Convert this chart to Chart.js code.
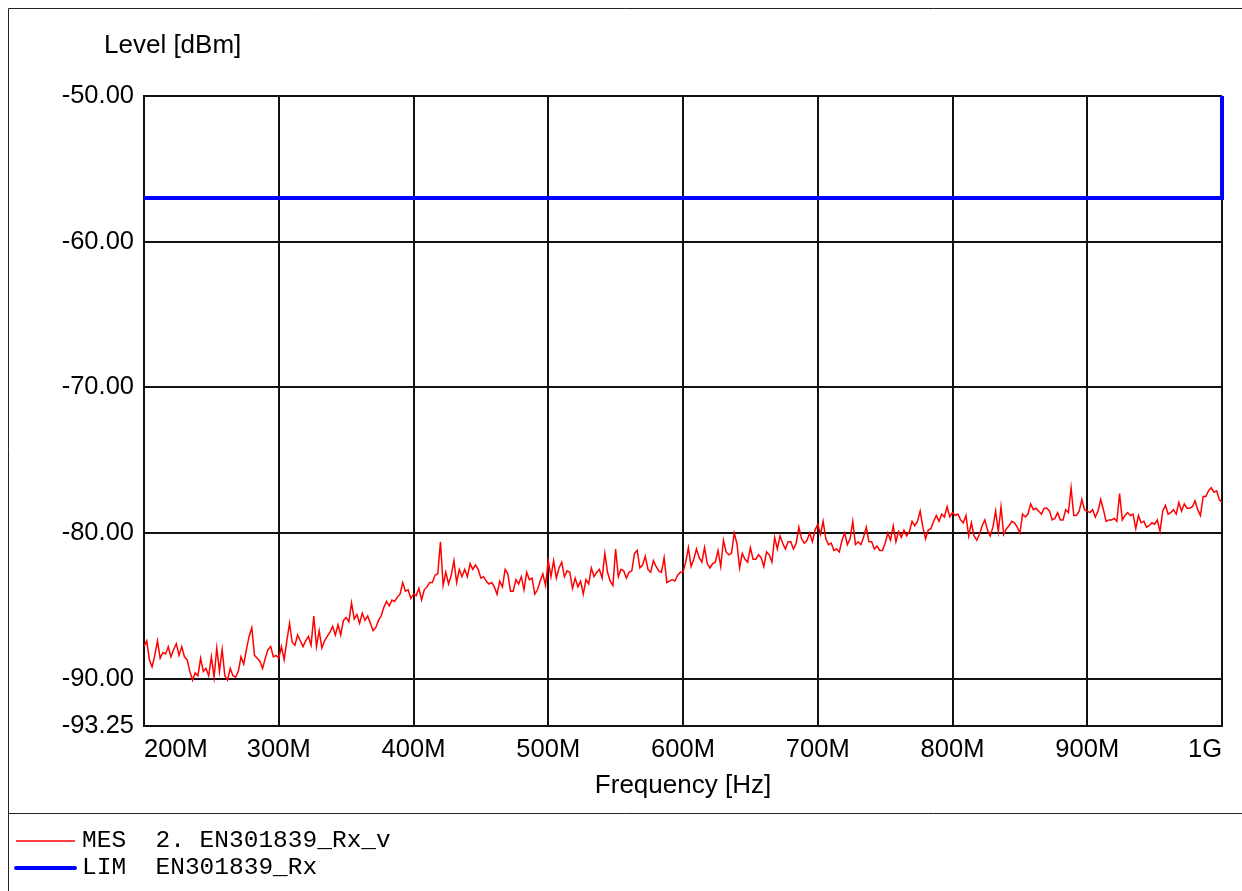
<!DOCTYPE html>
<html>
<head>
<meta charset="utf-8">
<script src="https://cdn.jsdelivr.net/npm/chart.js@4.4.0/dist/chart.umd.min.js"></script>
<style>
  html, body { margin: 0; padding: 0; background: #fff; }
  canvas { display: block; }
</style>
</head>
<body>
<canvas id="emiChart" width="1242" height="891"></canvas>
<script>
// sweep: 200 MHz .. 1 GHz, 2 MHz steps
const freqStartMHz = 200;
const freqStepMHz = 2;

// MES trace, level in dBm
const mesLevel = [
  // 200 - 298 MHz
  -87.8,-87.4,-88.7,-89.2,-88.4,-87.4,-88.6,-88.2,-88.3,-87.8,
  -88.5,-88.0,-87.6,-88.4,-87.8,-88.5,-88.7,-89.5,-90.1,-89.6,
  -89.8,-88.6,-89.5,-89.3,-89.8,-88.5,-89.9,-87.9,-89.5,-88.0,
  -89.8,-90.1,-89.3,-89.8,-89.9,-89.5,-88.5,-89.0,-88.0,-87.1,
  -86.5,-88.4,-88.6,-88.8,-89.3,-88.6,-88.0,-87.8,-88.5,-88.4,
  // 300 - 398 MHz
  -88.6,-87.8,-88.7,-87.4,-86.2,-87.5,-87.7,-87.0,-87.4,-87.8,
  -87.4,-87.1,-87.7,-85.7,-87.8,-86.7,-87.9,-87.4,-87.1,-86.8,
  -86.4,-87.0,-86.3,-87.0,-86.0,-85.8,-86.1,-84.8,-85.9,-85.6,
  -86.2,-85.5,-86.0,-85.7,-86.2,-86.7,-86.5,-86.0,-85.7,-85.1,
  -84.7,-85.0,-84.6,-84.7,-84.4,-84.2,-83.4,-84.0,-83.9,-84.5,
  // 400 - 498 MHz
  -84.2,-84.3,-83.8,-84.6,-83.9,-83.7,-83.4,-83.4,-82.9,-82.8,
  -80.6,-83.6,-82.7,-83.5,-82.9,-81.9,-83.4,-82.5,-83.0,-82.5,
  -83.0,-82.1,-82.5,-82.2,-82.5,-83.1,-83.0,-83.3,-83.5,-83.4,
  -83.7,-84.2,-83.3,-83.7,-82.5,-82.8,-84.0,-84.0,-83.2,-83.5,
  -83.0,-83.9,-82.7,-83.2,-83.1,-84.2,-83.9,-83.3,-82.8,-83.6,
  // 500 - 598 MHz
  -81.9,-83.0,-81.9,-83.1,-82.4,-82.0,-83.0,-82.6,-82.7,-83.8,
  -83.1,-83.7,-83.3,-84.2,-83.2,-83.5,-82.4,-83.0,-82.7,-82.5,
  -83.1,-81.4,-82.7,-83.3,-83.6,-81.1,-83.0,-82.5,-82.6,-83.1,
  -82.7,-82.6,-81.4,-81.2,-82.4,-82.2,-81.6,-82.5,-82.7,-81.9,
  -82.3,-82.6,-82.7,-81.7,-83.4,-83.3,-83.2,-83.3,-82.9,-82.7,
  // 600 - 698 MHz
  -82.7,-82.0,-81.0,-82.3,-81.8,-81.1,-81.7,-82.0,-81.0,-82.1,
  -82.4,-82.1,-82.0,-81.2,-82.3,-80.5,-81.3,-81.5,-81.4,-80.0,
  -80.7,-82.4,-81.4,-81.8,-82.0,-81.0,-81.8,-81.8,-81.5,-81.7,
  -82.3,-81.3,-81.5,-82.0,-80.3,-81.1,-80.2,-80.7,-81.1,-80.6,
  -80.6,-81.1,-80.7,-79.6,-80.4,-80.7,-80.5,-80.0,-80.6,-79.8,
  // 700 - 798 MHz
  -79.4,-80.1,-79.2,-80.4,-80.8,-80.7,-81.2,-81.1,-81.3,-80.5,
  -80.0,-80.8,-80.4,-79.2,-80.8,-80.6,-80.8,-80.3,-79.6,-80.6,
  -80.6,-81.1,-80.9,-81.2,-81.2,-80.7,-80.0,-80.5,-79.5,-80.6,
  -79.9,-80.3,-79.8,-80.2,-79.9,-79.2,-79.5,-79.2,-78.5,-79.6,
  -80.4,-79.8,-79.7,-79.2,-78.8,-79.2,-78.7,-78.9,-78.2,-78.9,
  // 800 - 898 MHz
  -78.6,-78.8,-78.7,-79.1,-79.3,-78.8,-80.2,-79.3,-80.2,-80.5,
  -80.1,-79.5,-79.1,-79.8,-80.2,-79.6,-78.5,-79.9,-78.2,-80.1,
  -79.7,-79.5,-79.2,-79.3,-79.6,-80.0,-78.7,-78.9,-78.7,-78.0,
  -78.4,-78.3,-78.5,-78.7,-78.3,-78.3,-78.5,-79.1,-79.0,-78.6,
  -79.1,-79.1,-78.4,-78.6,-76.9,-78.8,-78.8,-78.5,-77.7,-78.4,
  // 900 - 1000 MHz
  -78.5,-78.6,-78.4,-78.9,-78.5,-77.7,-78.4,-79.2,-79.1,-79.1,
  -79.0,-79.2,-77.3,-79.1,-78.8,-78.6,-78.8,-78.7,-79.7,-78.8,
  -79.3,-79.2,-79.6,-79.5,-79.3,-79.4,-79.1,-79.9,-78.5,-78.1,
  -78.7,-78.6,-78.4,-78.7,-77.9,-78.5,-78.0,-78.3,-78.3,-78.2,
  -77.8,-78.4,-78.8,-77.5,-77.5,-77.1,-76.9,-77.2,-77.1,-77.7,
  -77.9
];

// LIM line
const limFreqMHz = [200, 1000, 1000];
const limLevel = [-57, -57, -50];

// axes
const xTickMHz = [200, 300, 400, 500, 600, 700, 800, 900, 1000];
const xTickLabels = ['200M', '300M', '400M', '500M', '600M', '700M', '800M', '900M', '1G'];
const yTicks = [-93.25, -90, -80, -70, -60, -50];

const legendRows = [
  { name: 'MES', text: '2. EN301839_Rx_v', color: '#ff0000', width: 1.5 },
  { name: 'LIM', text: 'EN301839_Rx', color: '#0000ff', width: 4 }
];

const sansFont = '"Liberation Sans", Arial, sans-serif';
const monoFont = '"Liberation Mono", "Courier New", monospace';
const gridColor = '#111';

const mesPoints = mesLevel.map((v, i) => ({ x: freqStartMHz + i * freqStepMHz, y: v }));
const limPoints = limFreqMHz.map((f, i) => ({ x: f, y: limLevel[i] }));

const decorPlugin = {
  id: 'decor',
  beforeDraw(chart) {
    const ctx = chart.ctx;
    ctx.save();
    ctx.fillStyle = '#fff';
    ctx.fillRect(0, 0, chart.width, chart.height);
    ctx.restore();
  },
  afterDraw(chart) {
    const ctx = chart.ctx;
    const xs = chart.scales.x;
    const area = chart.chartArea;
    ctx.save();

    // outer frame + legend separator
    ctx.strokeStyle = '#222';
    ctx.lineWidth = 1;
    ctx.beginPath();
    ctx.moveTo(8.5, chart.height);
    ctx.lineTo(8.5, 8.5);
    ctx.lineTo(chart.width, 8.5);
    ctx.moveTo(8.5, 813.5);
    ctx.lineTo(chart.width, 813.5);
    ctx.stroke();

    // x tick labels, edge ones pulled inside
    ctx.fillStyle = '#000';
    ctx.font = '25.5px ' + sansFont;
    ctx.textBaseline = 'middle';
    xTickMHz.forEach((f, i) => {
      const px = xs.getPixelForValue(f);
      if (i === 0) ctx.textAlign = 'left';
      else if (i === xTickMHz.length - 1) ctx.textAlign = 'right';
      else ctx.textAlign = 'center';
      ctx.fillText(xTickLabels[i], px, 750);
    });

    // axis titles
    ctx.font = '26px ' + sansFont;
    ctx.textAlign = 'center';
    ctx.fillText('Frequency [Hz]', (area.left + area.right) / 2, 786);
    ctx.textAlign = 'left';
    ctx.fillText('Level [dBm]', 104, 46);

    // legend
    ctx.font = '24.5px ' + monoFont;
    legendRows.forEach((row, i) => {
      const y = 841 + i * 27;
      ctx.strokeStyle = row.color;
      ctx.lineWidth = row.width;
      ctx.lineCap = i === 1 ? 'round' : 'butt';
      ctx.beginPath();
      ctx.moveTo(16, y);
      ctx.lineTo(75, y);
      ctx.stroke();
      ctx.fillStyle = '#000';
      ctx.textAlign = 'left';
      ctx.fillText(row.name, 82, y);
      ctx.fillText(row.text, 82 + 14.7 * 5, y);
    });
    ctx.restore();
  }
};

const chart = new Chart(document.getElementById('emiChart'), {
  type: 'line',
  data: {
    datasets: [
      {
        label: 'MES',
        data: mesPoints,
        borderColor: '#ff0000',
        borderWidth: 1.5,
        pointRadius: 0,
        tension: 0
      },
      {
        label: 'LIM',
        data: limPoints,
        borderColor: '#0000ff',
        borderWidth: 4,
        pointRadius: 0,
        tension: 0,
        clip: false
      }
    ]
  },
  options: {
    responsive: false,
    animation: false,
    devicePixelRatio: 1,
    layout: { padding: { left: 0, top: 96, right: 20, bottom: 165 } },
    plugins: {
      legend: { display: false },
      tooltip: { enabled: false }
    },
    scales: {
      x: {
        type: 'linear',
        min: 200,
        max: 1000,
        afterBuildTicks: (s) => { s.ticks = xTickMHz.map(v => ({ value: v })); },
        afterFit: (s) => { s.height = 0; },
        ticks: { display: false },
        grid: { color: gridColor, lineWidth: 2, drawTicks: false },
        border: { color: gridColor, width: 2 }
      },
      y: {
        min: -93.25,
        max: -50,
        afterBuildTicks: (s) => { s.ticks = yTicks.map(v => ({ value: v })); },
        afterFit: (s) => { s.width = 144; },
        ticks: {
          padding: 10,
          color: '#000',
          font: { family: sansFont, size: 25.5 },
          callback: (v) => Number(v).toFixed(2)
        },
        grid: { color: gridColor, lineWidth: 2, drawTicks: false },
        border: { color: gridColor, width: 2 }
      }
    }
  },
  plugins: [decorPlugin]
});
</script>
</body>
</html>
